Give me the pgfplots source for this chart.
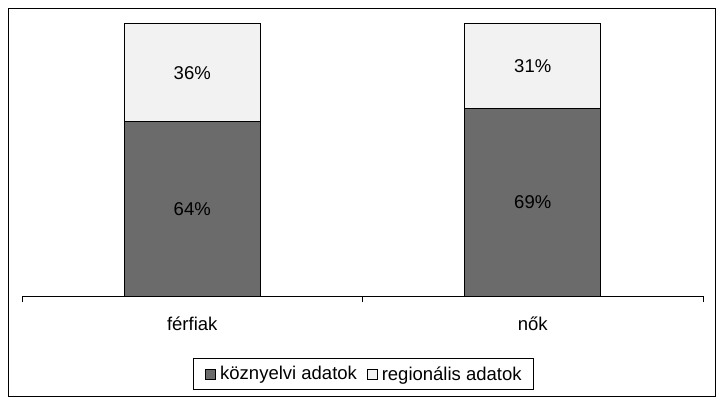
\documentclass[border=0pt]{standalone}
\usepackage{fontspec}
\setmainfont{Liberation Sans}
\usepackage{pgfplots}
\pgfplotsset{compat=1.18}
\definecolor{koz}{RGB}{107,107,107}
\definecolor{reg}{RGB}{242,242,242}
\begin{document}
\begin{tikzpicture}[font=\fontsize{18.5bp}{22bp}\selectfont]
\path[use as bounding box] (0,0) rectangle (725bp,406bp);
\draw[line width=1bp] (8bp,9bp) rectangle (715bp,397bp);
\begin{axis}[
    at={(22bp,110bp)}, anchor=south west,
    scale only axis,
    width=681bp, height=272bp,
    ybar stacked,
    bar width=136bp,
    xmin=-0.5, xmax=1.5,
    ymin=0, ymax=100,
    hide y axis,
    axis x line*=bottom,
    axis line style={line width=1bp, black},
    xtick={0,1},
    xticklabels={férfiak, nők},
    major x tick style={draw=none},
    minor xtick={-0.5,0.5,1.5},
    minor x tick style={line width=1bp, black},
    minor tick length=6bp,
    tick align=outside,
    xticklabel style={anchor=center, yshift=-24bp},
    legend columns=2,
    legend style={at={(0.5015,-0.2868)}, anchor=center, draw=black, line width=1bp,
        font=\fontsize{18.5bp}{22bp}\selectfont, inner xsep=11.5bp, inner ysep=8bp,
        nodes={inner sep=0pt},
        /tikz/every odd column/.append style={column sep=4bp},
        /tikz/every even column/.append style={column sep=10bp}},
    legend image code/.code={\draw[#1, draw=black, line width=0.8bp] (0bp,-5bp) rectangle (10bp,5bp);},
]
\addplot[fill=koz, draw=black, line width=1bp] coordinates {(0,64) (1,69)};
\addplot[fill=reg, draw=black, line width=1bp] coordinates {(0,36) (1,31)};
\legend{köznyelvi adatok, regionális adatok}
\coordinate (a1) at (axis cs:0,32);
\coordinate (a2) at (axis cs:0,82);
\coordinate (b1) at (axis cs:1,34.5);
\coordinate (b2) at (axis cs:1,84.5);
\end{axis}
\node at (a1) {64\%};
\node at (a2) {36\%};
\node at (b1) {69\%};
\node at (b2) {31\%};
\end{tikzpicture}
\end{document}
